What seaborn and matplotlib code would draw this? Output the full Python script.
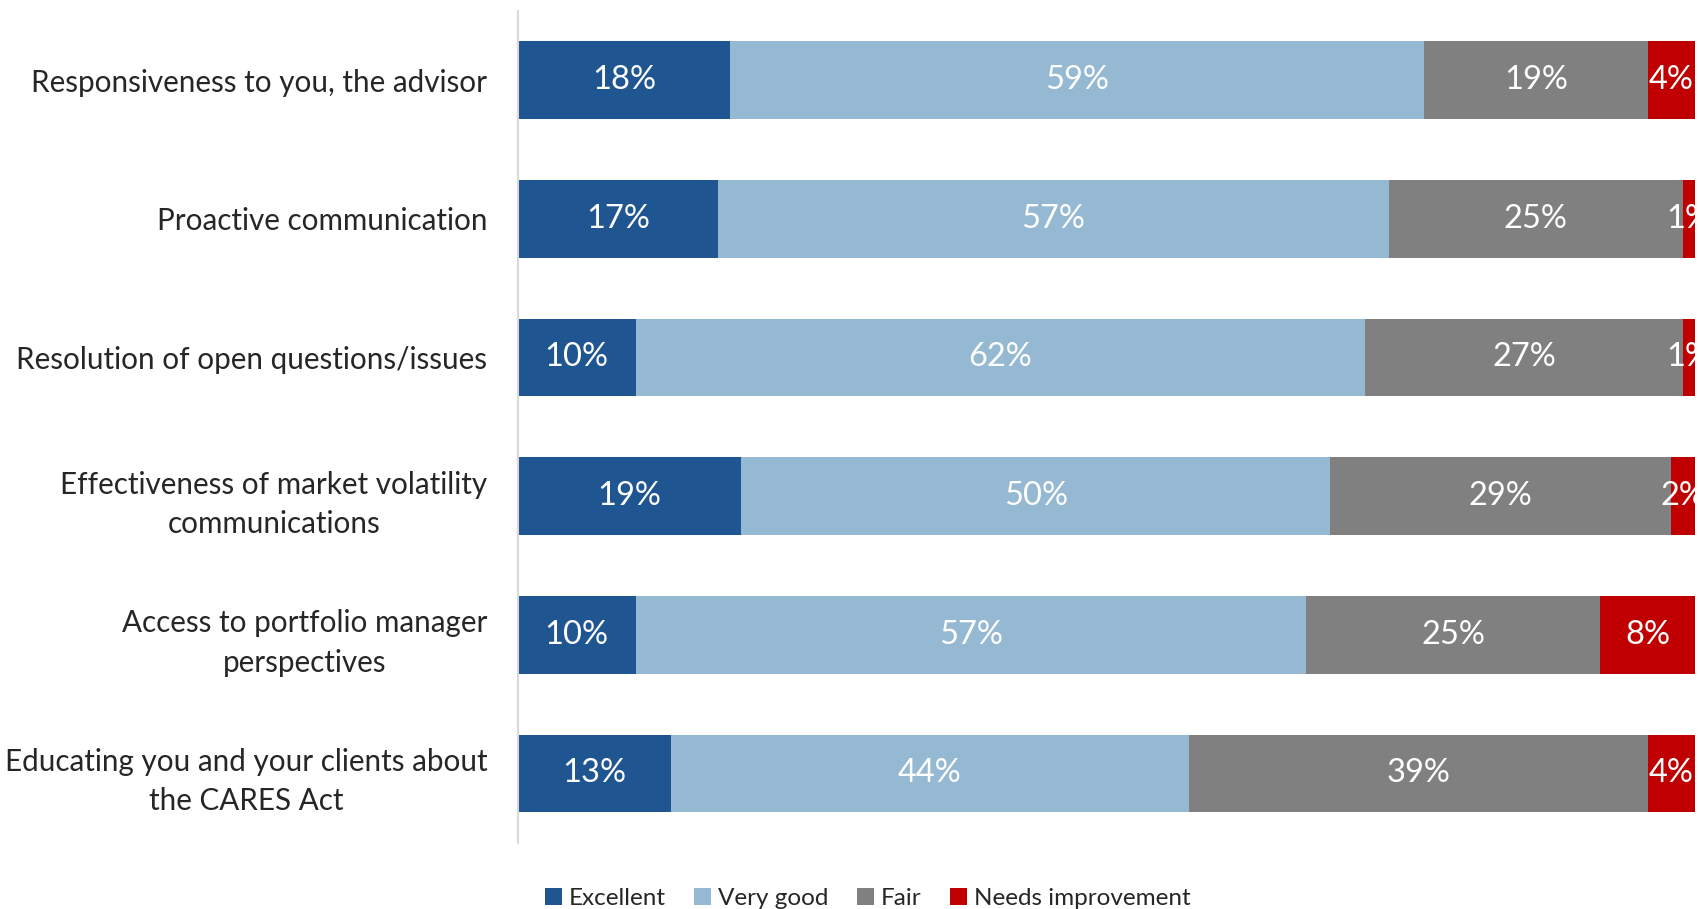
import pandas as pd
import seaborn as sns
from matplotlib import pyplot as plt
from matplotlib.patches import Patch

categories = [
    "Responsiveness to you, the advisor",
    "Proactive communication",
    "Resolution of open questions/issues",
    "Effectiveness of market volatility\ncommunications",
    "Access to portfolio manager\nperspectives",
    "Educating you and your clients about\nthe CARES Act",
]
excellent = [18, 17, 10, 19, 10, 13]
very_good = [59, 57, 62, 50, 57, 44]
fair = [19, 25, 27, 29, 25, 39]
needs_improvement = [4, 1, 1, 2, 8, 4]

series = ["Excellent", "Very good", "Fair", "Needs improvement"]
colors = ["#1F5591", "#95B8D3", "#808080", "#C00000"]

sns.set_style("white")
plt.rcParams['font.family'] = ['Lato', 'DejaVu Sans']

df = pd.DataFrame({"cat": categories,
                   "Excellent": excellent,
                   "Very good": very_good,
                   "Fair": fair,
                   "Needs improvement": needs_improvement})
cum = df[series].cumsum(axis=1)
cum["cat"] = df["cat"]

fig = plt.figure(figsize=(16.98, 9.09), dpi=100)
ax = fig.add_axes([0.305, 0.073, 0.693, 0.915])

# stacked bars: draw running totals, longest first
for s, c in reversed(list(zip(series, colors))):
    sns.barplot(data=cum, x=s, y="cat", orient="h", color=c, saturation=1,
                width=0.56, errorbar=None, edgecolor="none", ax=ax)

for i in range(len(categories)):
    for s in series:
        v = df.loc[i, s]
        left = cum.loc[i, s] - v
        ax.text(left + v / 2, i, f"{v}%", ha="center", va="center",
                color="white", fontsize=23.5)

ax.set_xlim(0, 100)
ax.set_xticks([])
ax.set_xlabel("")
ax.set_ylabel("")
for sp in ["top", "right", "bottom"]:
    ax.spines[sp].set_visible(False)
ax.spines["left"].set_color("#D9D9D9")
ax.spines["left"].set_linewidth(1.5)
ax.tick_params(axis="y", length=0, pad=22, labelsize=21.3, labelcolor="#262626")
for lbl in ax.get_yticklabels():
    lbl.set_multialignment("center")
    lbl.set_linespacing(1.5)

handles = [Patch(facecolor=c, edgecolor="none", label=s) for s, c in zip(series, colors)]
fig.legend(handles=handles, loc="center", bbox_to_anchor=(0.511, 0.012), ncol=4,
           frameon=False, fontsize=17.5, labelcolor="#262626",
           handlelength=0.7, handleheight=0.7, handletextpad=0.3, columnspacing=1.15)

fig.savefig("out.png", dpi=100)
